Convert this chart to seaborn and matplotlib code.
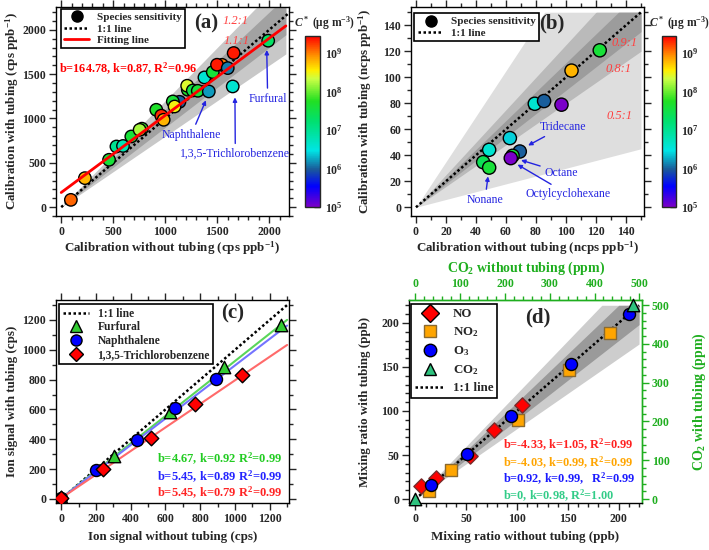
import numpy as np
import pandas as pd
import matplotlib
matplotlib.use("Agg")
import matplotlib.pyplot as plt
import seaborn as sns
from matplotlib.colors import LinearSegmentedColormap, LogNorm
from matplotlib.ticker import MultipleLocator, LogLocator, NullFormatter
from matplotlib.lines import Line2D
import matplotlib.cm as cm

sns.set_theme(style="ticks")
plt.rcParams['font.family'] = ['Liberation Serif', 'DejaVu Serif']
plt.rcParams['font.weight'] = 'bold'
plt.rcParams['axes.labelweight'] = 'bold'
plt.rcParams['mathtext.fontset'] = 'custom'
plt.rcParams['mathtext.rm'] = 'Liberation Serif:bold'
plt.rcParams['mathtext.it'] = 'Liberation Serif:italic:bold'
plt.rcParams['mathtext.bf'] = 'Liberation Serif:bold'

# ---------------- data ----------------
# panel (a)
a_x = [93, 228, 460, 531, 594, 674, 776, 754, 914, 962, 985, 1137, 1073, 1090,
       1217, 1211, 1265, 1313, 1377, 1419, 1457, 1546, 1498, 1601, 1649, 1658, 1990]
a_y = [82, 327, 534, 684, 690, 797, 885, 872, 1098, 1032, 985, 1188, 1192, 1135,
       1324, 1369, 1316, 1312, 1463, 1305, 1523, 1605, 1606, 1568, 1361, 1738, 1877]
a_logc = [9.1, 8.8, 7.6, 7.0, 6.8, 7.6, 7.8, 8.2, 7.7, 9.3, 8.8, 6.0, 7.6, 8.5,
          7.7, 8.4, 7.5, 7.6, 6.6, 6.2, 7.6, 9.0, 9.35, 6.1, 6.6, 9.35, 7.3]
a_fit_b, a_fit_k = 164.78, 0.87

# panel (b)
b_x = [122.5, 103.7, 79.2, 85.4, 97.0, 62.6, 48.8, 69.2, 64.4, 63.2, 44.8, 48.8]
b_y = [120.7, 105.1, 79.6, 81.7, 78.9, 53.2, 44.2, 42.9, 39.6, 37.8, 34.7, 30.5]
b_logc = [7.6, 8.8, 6.6, 6.0, 5.0, 6.4, 6.6, 6.0, 7.6, 5.0, 7.4, 7.6]

# panel (c)
c_fur_x = [0, 303, 625, 937, 1265]
c_fur_y = [10, 290, 584, 884, 1169]
c_nap_x = [0, 203, 437, 657, 889]
c_nap_y = [5, 193, 396, 607, 807]
c_tcb_x = [0, 241, 519, 769, 1043]
c_tcb_y = [5, 200, 411, 640, 833]
c_fits = [(4.67, 0.92), (5.45, 0.89), (5.45, 0.79)]

# panel (d)
d_no_x = [5.9, 20.7, 54, 77.4, 105.3]
d_no_y = [14.3, 23.7, 49, 78.3, 107.3]
d_no2_x = [13.1, 35.4, 101, 151.5, 191.2]
d_no2_y = [9.4, 33.1, 89.6, 146.9, 188.3]
d_o3_x = [15.1, 50.5, 93.8, 152.8, 209.9]
d_o3_y = [16.2, 50.8, 94.2, 153.6, 210.1]
d_co2_x_ppm = [0, 485]
d_co2_y_ppm = [0, 500]
CO2_FACTOR = 2.27  # ppm per ppb-axis unit

# ---------------- style helpers ----------------
W, H = 709, 550
def rect(l, r, t, b):
    return [l / W, 1 - b / H, (r - l) / W, (b - t) / H]

fig = plt.figure(figsize=(W / 100, H / 100), dpi=100)
axA = fig.add_axes(rect(56, 289, 7, 216))
axB = fig.add_axes(rect(411, 644, 7, 216))
axC = fig.add_axes(rect(56, 289, 300, 503))
axD = fig.add_axes(rect(409, 642, 300, 503))
caxA = fig.add_axes(rect(305, 320, 36, 207))
caxB = fig.add_axes(rect(662, 676, 36, 207))

cmap = LinearSegmentedColormap.from_list("cstar", [
    (0.00, "#7a00c8"), (0.12, "#0000ff"), (0.22, "#1a5a9a"), (0.33, "#00e5e5"),
    (0.50, "#00e070"), (0.62, "#22e022"), (0.75, "#ccff44"), (0.80, "#ffee00"),
    (0.88, "#ff9900"), (1.00, "#ff0000")])
norm = LogNorm(1e5, 10 ** 9.45)

TICK = 8.5
LAB = 9.4
BLUE = "#2424e0"
GREEN = "#1fae1f"

def style_axes(ax, top=True, right=True):
    ax.tick_params(which='both', direction='out', top=top, right=right, width=1,
                   labelsize=TICK, pad=2)
    ax.tick_params(which='major', length=5)
    ax.tick_params(which='minor', length=3)
    for s in ax.spines.values():
        s.set_linewidth(1.0)
        s.set_color('black')

def set_labels(ax, xl, yl, xy, yx):
    ax.set_xlabel(xl, fontsize=LAB)
    ax.set_ylabel(yl, fontsize=LAB)
    ax.xaxis.set_label_coords(0.5, xy)
    ax.yaxis.set_label_coords(yx, 0.5)
    ax.xaxis.label.set_va('center')
    ax.yaxis.label.set_va('center')

def make_legend(ax, handles, labels, anchor, size=8, spacing=0.15, hl=2.3):
    leg = ax.legend(handles=handles, labels=labels, loc='upper left', bbox_to_anchor=anchor,
                    prop={'weight': 'bold', 'size': size}, frameon=True, fancybox=False,
                    edgecolor='black', framealpha=1, borderpad=0.3, labelspacing=spacing,
                    handlelength=hl, handletextpad=0.7, borderaxespad=0.1)
    leg.get_frame().set_linewidth(1.2)
    return leg

# ---------------- panel (a) ----------------
xs = np.linspace(0, 2160, 200)
axA.fill_between(xs, 0.8 * xs, np.minimum(1.2 * xs, 2250), color="#c8c8c8", lw=0, zorder=0)
axA.fill_between(xs, 0.9 * xs, np.minimum(1.1 * xs, 2250), color="#a2a2a2", lw=0, zorder=0.5)
axA.plot([0, 2200], [0, 2200], color='black', ls=(0, (1, 1)), lw=1.8, zorder=2)
dfa = pd.DataFrame({"x": a_x, "y": a_y, "c": 10 ** np.array(a_logc)})
sns.scatterplot(data=dfa, x="x", y="y", hue="c", palette=cmap, hue_norm=norm,
                s=80, edgecolor='black', linewidth=1, legend=False, ax=axA, zorder=3)
fx = np.array([0, 2160])
axA.plot(fx, a_fit_b + a_fit_k * fx, color='red', lw=2, zorder=4)
axA.set_xlim(-50, 2190)
axA.set_ylim(-100, 2257)
axA.xaxis.set_major_locator(MultipleLocator(500))
axA.xaxis.set_minor_locator(MultipleLocator(100))
axA.yaxis.set_major_locator(MultipleLocator(500))
axA.yaxis.set_minor_locator(MultipleLocator(100))
style_axes(axA)
set_labels(axA, "Calibration without tubing (cps ppb$^{-1}$)",
           "Calibration with tubing (cps ppb$^{-1}$)", -0.153, -0.189)
make_legend(axA, [
    Line2D([], [], marker='o', color='black', ls='none', markersize=8),
    Line2D([], [], color='black', ls=(0, (1, 1)), lw=1.8),
    Line2D([], [], color='red', lw=2)],
    ["Species sensitivity", "1:1 line", "Fitting line"], (0.015, 0.995))
axA.text(-20, 1560, "b=164.78, k=0.87, R$^2$=0.96", color='red', fontsize=8.8,
         va='center', ha='left', fontweight='bold')
axA.text(1680, 2094, "1.2:1", color='#ff4040', style='italic', fontweight='normal',
         fontsize=9, ha='center', va='center')
axA.text(1687, 1868, "1.1:1", color='#ff4040', style='italic', fontweight='normal',
         fontsize=9, ha='center', va='center')
ann = dict(color=BLUE, fontsize=8.5, fontweight='normal', ha='center', va='center',
           arrowprops=dict(arrowstyle='-|>', color=BLUE, lw=1, mutation_scale=6,
                           shrinkA=1, shrinkB=4))
axA.annotate("Furfural", xy=(1975, 1835), xytext=(1985, 1222), **ann)
axA.annotate("Naphthalene", xy=(1412, 1262), xytext=(1250, 816), **ann)
axA.annotate("1,3,5-Trichlorobenzene", xy=(1670, 1300), xytext=(1674, 598), **ann)

# ---------------- panel (b) ----------------
xs = np.linspace(0, 150, 200)
axB.fill_between(xs, 0.3 * xs, np.minimum(1.75 * xs, 150), color="#dedede", lw=0, zorder=0)
axB.fill_between(xs, 0.8 * xs, np.minimum(1.25 * xs, 150), color="#bababa", lw=0, zorder=0.3)
axB.fill_between(xs, 0.9 * xs, np.minimum(xs / 0.9, 150), color="#9c9c9c", lw=0, zorder=0.6)
axB.plot([0, 150], [0, 150], color='black', ls=(0, (1, 1)), lw=1.8, zorder=2)
dfb = pd.DataFrame({"x": b_x, "y": b_y, "c": 10 ** np.array(b_logc)})
sns.scatterplot(data=dfb, x="x", y="y", hue="c", palette=cmap, hue_norm=norm,
                s=90, edgecolor='black', linewidth=1, legend=False, ax=axB, zorder=3)
axB.set_xlim(-3.3, 152)
axB.set_ylim(-6.7, 154)
for a in (axB.xaxis, axB.yaxis):
    a.set_major_locator(MultipleLocator(20))
    a.set_minor_locator(MultipleLocator(10))
style_axes(axB)
set_labels(axB, "Calibration without tubing (ncps ppb$^{-1}$)",
           "Calibration with tubing (ncps ppb$^{-1}$)", -0.153, -0.197)
make_legend(axB, [
    Line2D([], [], marker='o', color='black', ls='none', markersize=8),
    Line2D([], [], color='black', ls=(0, (1, 1)), lw=1.8)],
    ["Species sensitivity", "1:1 line"], (0.01, 0.975))
for t, xx, yy in [("0.9:1", 139, 126.4), ("0.8:1", 134.7, 106.3), ("0.5:1", 135.8, 69.9)]:
    axB.text(xx, yy, t, color='#ff4040', style='italic', fontweight='normal',
             fontsize=9, ha='center', va='center')
axB.annotate("Tridecane", xy=(71.5, 45.5), xytext=(98, 62), **ann)
axB.annotate("Octane", xy=(66.5, 37.5), xytext=(97, 26.7), **ann)
axB.annotate("Octylcyclohexane", xy=(64.5, 35), xytext=(101.4, 10), **ann)
axB.annotate("Nonane", xy=(48.5, 28), xytext=(46, 5.7), **ann)

# colorbars
for cax, lx in [(caxA, 294), (caxB, 649)]:
    sm = cm.ScalarMappable(norm=norm, cmap=cmap)
    cb = fig.colorbar(sm, cax=cax)
    cb.outline.set_linewidth(1)
    cb.set_ticks([1e5, 1e6, 1e7, 1e8, 1e9])
    cax.yaxis.set_minor_locator(LogLocator(base=10, subs=np.arange(2, 10)))
    cax.yaxis.set_minor_formatter(NullFormatter())
    cax.tick_params(which='both', labelsize=TICK, width=1, direction='in')
    cax.tick_params(which='major', length=4)
    cax.tick_params(which='minor', length=2)
    fig.text(lx / W, 1 - 23 / H, r"$C^*$ (μg m$^{-3}$)", fontsize=8.3, ha='left', va='center')

# ---------------- panel (c) ----------------
xs = np.array([0, 1300])
axC.plot(xs, xs, color='black', ls=(0, (1, 1)), lw=1.8, zorder=2)
for (b, k), col in zip(c_fits, ["#5ad65a", "#7474ff", "#ff6a6a"]):
    axC.plot(xs, b + k * xs, color=col, lw=1.5, zorder=2)
sns.scatterplot(x=c_fur_x, y=c_fur_y, marker='^', color='#33cc33', s=80,
                edgecolor='black', linewidth=1, ax=axC, zorder=3)
sns.scatterplot(x=c_nap_x, y=c_nap_y, marker='o', color='#0000ff', s=75,
                edgecolor='black', linewidth=1, ax=axC, zorder=3)
sns.scatterplot(x=c_tcb_x, y=c_tcb_y, marker='D', color='#ff0000', s=55,
                edgecolor='black', linewidth=1, ax=axC, zorder=3)
axC.set_xlim(-30, 1311)
axC.set_ylim(-27, 1334)
for a in (axC.xaxis, axC.yaxis):
    a.set_major_locator(MultipleLocator(200))
    a.set_minor_locator(MultipleLocator(100))
style_axes(axC)
set_labels(axC, "Ion signal without tubing (cps)", "Ion signal with tubing (cps)",
           -0.166, -0.189)
make_legend(axC, [
    Line2D([], [], color='black', ls=(0, (1, 1)), lw=1.8),
    Line2D([], [], marker='^', color='#33cc33', mec='black', ls='none', markersize=8),
    Line2D([], [], marker='o', color='#0000ff', mec='black', ls='none', markersize=8),
    Line2D([], [], marker='D', color='#ff0000', mec='black', ls='none', markersize=7)],
    ["1:1 line", "Furfural", "Naphthalene", "1,3,5-Trichlorobenzene"], (0.01, 0.985),
    size=8.3)
for (b, k), col, yy in zip(c_fits, ["#22cc22", "#2424ff", "#ff2424"], [268, 151, 40]):
    axC.text(549, yy, f"b={b:.2f}, k={k:.2f} R$^2$=0.99", color=col, fontsize=9,
             ha='left', va='center')

# ---------------- panel (d) ----------------
xs = np.linspace(0, 220, 200)
axD.fill_between(xs, 0.8 * xs, np.minimum(1.2 * xs, 220), color="#cdcdcd", lw=0, zorder=0)
axD.fill_between(xs, 0.9 * xs, np.minimum(1.1 * xs, 220), color="#9a9a9a", lw=0, zorder=0.5)
axD.plot([0, 220], [0, 220], color='black', ls=(0, (1, 1)), lw=1.8, zorder=2)
sns.scatterplot(x=d_no2_x, y=d_no2_y, marker='s', color='#ffa500', s=70,
                edgecolor='#8a6a30', linewidth=1, ax=axD, zorder=3)
sns.scatterplot(x=d_no_x, y=d_no_y, marker='D', color='#ff0000', s=60,
                edgecolor='#7a2a2a', linewidth=1, ax=axD, zorder=3)
sns.scatterplot(x=d_o3_x, y=d_o3_y, marker='o', color='#0000ff', s=75,
                edgecolor='black', linewidth=1, ax=axD, zorder=3)
sns.scatterplot(x=np.array(d_co2_x_ppm) / CO2_FACTOR, y=np.array(d_co2_y_ppm) / CO2_FACTOR,
                marker='^', color='#2ec27e', s=80, edgecolor='black', linewidth=1,
                ax=axD, zorder=3, clip_on=False)
axD.set_xlim(-6.3, 222.9)
axD.set_ylim(-4.5, 226)
for a in (axD.xaxis, axD.yaxis):
    a.set_major_locator(MultipleLocator(50))
    a.set_minor_locator(MultipleLocator(10))
style_axes(axD, top=False, right=False)
axD.spines['top'].set_color(GREEN)
axD.spines['right'].set_color(GREEN)
set_labels(axD, "Mixing ratio without tubing (ppb)", "Mixing ratio with tubing (ppb)",
           -0.166, -0.19)
f = lambda v: v * CO2_FACTOR
finv = lambda v: v / CO2_FACTOR
secx = axD.secondary_xaxis('top', functions=(f, finv))
secy = axD.secondary_yaxis('right', functions=(f, finv))
for sec, ax_ in [(secx, secx.xaxis), (secy, secy.yaxis)]:
    ax_.set_major_locator(MultipleLocator(100))
    ax_.set_minor_locator(MultipleLocator(20))
    sec.tick_params(which='both', direction='out', colors=GREEN, labelsize=TICK, width=1, pad=2)
    sec.tick_params(which='major', length=5)
    sec.tick_params(which='minor', length=3)
    for s in sec.spines.values():
        s.set_color(GREEN)
        s.set_linewidth(1.0)
fig.text(526 / W, 1 - 268 / H, "CO$_2$ without tubing (ppm)", color=GREEN,
         fontsize=LAB + 0.6, ha='center', va='center', fontweight='bold')
fig.text(699 / W, 1 - 402 / H, "CO$_2$ with tubing (ppm)", color=GREEN,
         fontsize=LAB + 0.6, ha='center', va='center', rotation=90, fontweight='bold')
make_legend(axD, [
    Line2D([], [], marker='D', color='#ff0000', mec='black', ls='none', markersize=9),
    Line2D([], [], marker='s', color='#ffa500', mec='#8a6a30', ls='none', markersize=9),
    Line2D([], [], marker='o', color='#0000ff', mec='black', ls='none', markersize=9),
    Line2D([], [], marker='^', color='#2ec27e', mec='black', ls='none', markersize=9),
    Line2D([], [], color='black', ls=(0, (1, 1)), lw=1.8)],
    ["NO", "NO$_2$", "O$_3$", "CO$_2$", "1:1 line"], (0.005, 0.985),
    size=9.3, spacing=0.4, hl=2.2)
for t, col, yy in [("b=-4.33, k=1.05, R$^2$=0.99", "#ff2020", 61.4),
                   ("b=-4.03, k=0.99, R$^2$=0.99", "#ffa500", 41.4),
                   ("b=0.92, k=0.99,   R$^2$=0.99", "#1a1aff", 23),
                   ("b=0, k=0.98, R$^2$=1.00", "#33cc88", 4)]:
    axD.text(86.2, yy, t, color=col, fontsize=8.8, ha='left', va='center')

# panel letters
for t, px, py in [("(a)", 206, 23), ("(b)", 552, 23), ("(c)", 233, 313), ("(d)", 538, 317)]:
    fig.text(px / W, 1 - py / H, t, fontsize=15, ha='center', va='center', fontweight='bold')

fig.savefig("out.png", dpi=100)
